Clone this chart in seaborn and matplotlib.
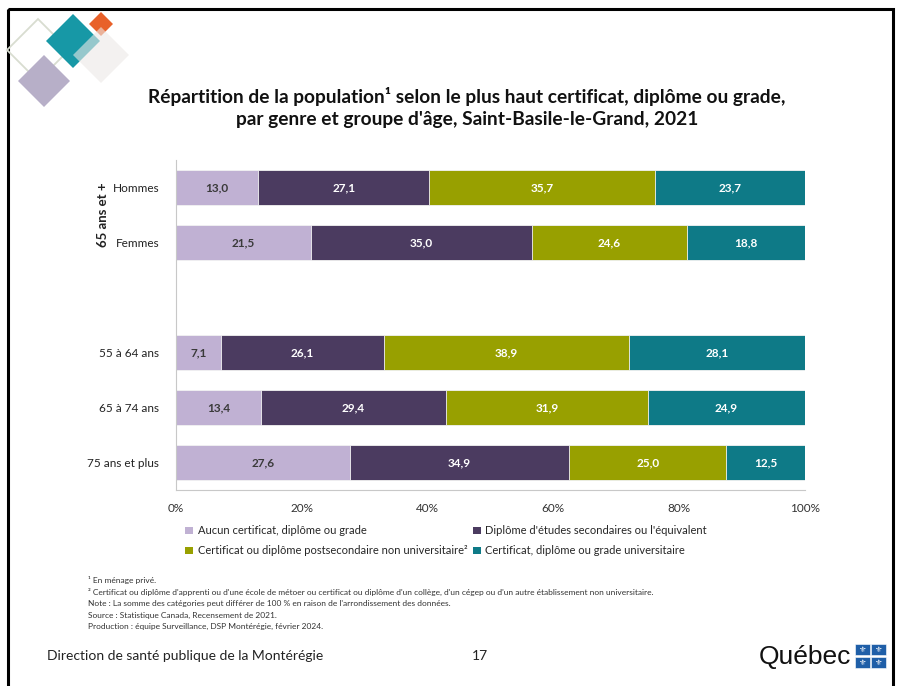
import numpy as np
import pandas as pd
import matplotlib
matplotlib.use("Agg")
import matplotlib.pyplot as plt
from matplotlib.patches import Polygon, Rectangle, Patch
import seaborn as sns

# Données
groupes = ["Hommes", "Femmes", "55 à 64 ans", "65 à 74 ans", "75 ans et plus"]
positions = [0, 1, 3, 4, 5]
categories = [
    "Aucun certificat, diplôme ou grade",
    "Diplôme d'études secondaires ou l'équivalent",
    "Certificat ou diplôme postsecondaire non universitaire²",
    "Certificat, diplôme ou grade universitaire",
]
aucun = [13.0, 21.5, 7.1, 13.4, 27.6]
secondaire = [27.1, 35.0, 26.1, 29.4, 34.9]
postsec = [35.7, 24.6, 38.9, 31.9, 25.0]
universitaire = [23.7, 18.8, 28.1, 24.9, 12.5]
couleurs = ["#C0B1D3", "#4B3B60", "#98A000", "#0E7A87"]
couleurs_texte = ["#3A3A3A", "white", "white", "white"]

sns.set_style("white")
plt.rcParams["font.family"] = ["Lato", "DejaVu Sans"]

valeurs = np.array([aucun, secondaire, postsec, universitaire])
# les barres sont ramenées à 100 %
parts = valeurs / valeurs.sum(axis=0) * 100
droite = np.cumsum(parts, axis=0)

lignes = []
for i, cat in enumerate(categories):
    for j, g in enumerate(groupes):
        lignes.append({"categorie": cat, "groupe": g, "pos": positions[j],
                       "valeur": valeurs[i, j], "droite": droite[i, j],
                       "centre": droite[i, j] - parts[i, j] / 2})
df = pd.DataFrame(lignes)

fig = plt.figure(figsize=(9.02, 6.86), dpi=100)

# fond de la diapositive (coordonnées en pixels)
bg = fig.add_axes([0, 0, 1, 1], zorder=-1)
bg.set_xlim(0, 902)
bg.set_ylim(686, 0)
bg.axis("off")
bg.add_patch(Rectangle((8, 9), 885, 690, fill=False, edgecolor="black", linewidth=2.2))


def losange(cx, cy, r, **kw):
    bg.add_patch(Polygon([(cx, cy - r), (cx + r, cy), (cx, cy + r), (cx - r, cy)], closed=True, **kw))


losange(38, 50, 31, fill=False, edgecolor="#D8DDD0", linewidth=1.3)
losange(44, 81, 26, facecolor="#B7AFC8", edgecolor="none")
losange(73, 41, 27, facecolor="#1798A6", edgecolor="none")
losange(101, 24, 12, facecolor="#E8612A", edgecolor="none")
losange(101, 55, 28, facecolor="#ECE9E6", edgecolor="none", alpha=0.6)

bg.text(467, 97, "Répartition de la population¹ selon le plus haut certificat, diplôme ou grade,",
        ha="center", va="center", fontsize=13.8, fontweight="bold", color="#111111")
bg.text(467, 120, "par genre et groupe d'âge, Saint-Basile-le-Grand, 2021",
        ha="center", va="center", fontsize=13.8, fontweight="bold", color="#111111")

notes = [
    "¹ En ménage privé.",
    "² Certificat ou diplôme d'apprenti ou d'une école de métoer ou certificat ou diplôme d'un collège, d'un cégep ou d'un autre établissement non universitaire.",
    "Note : La somme des catégories peut différer de 100 % en raison de l'arrondissement des données.",
    "Source : Statistique Canada, Recensement de 2021.",
    "Production : équipe Surveillance, DSP Montérégie, février 2024.",
]
for k, n in enumerate(notes):
    bg.text(88, 580 + k * 11.7, n, ha="left", va="center", fontsize=6, color="#333333")

bg.text(47, 656, "Direction de santé publique de la Montérégie", ha="left", va="center",
        fontsize=10, color="#222222")
bg.text(480, 656, "17", ha="center", va="center", fontsize=10, color="#222222")
bg.text(851, 657, "Québec", ha="right", va="center", fontsize=19, color="#111111",
        family=["Liberation Sans", "DejaVu Sans"])
for dx in (0, 16):
    for dy in (0, 12.5):
        bg.add_patch(Rectangle((855 + dx, 644 + dy), 14.5, 11, facecolor="#1F5FA8", edgecolor="white", linewidth=0.4))
        bg.text(862.2 + dx, 649.8 + dy, "⚜", ha="center", va="center", fontsize=6, color="white",
                family=["DejaVu Sans"])

# graphique principal
ax = fig.add_axes([176 / 902, 1 - 490 / 686, 629 / 902, 330 / 686])
for i in reversed(range(len(categories))):
    sub = df[df["categorie"] == categories[i]]
    sns.barplot(data=sub, x="droite", y="pos", orient="h", native_scale=True,
                color=couleurs[i], saturation=1, width=0.62, edgecolor="#F4F4F4", linewidth=0.6,
                errorbar=None, ax=ax)

for i, cat in enumerate(categories):
    sub = df[df["categorie"] == cat]
    for _, r in sub.iterrows():
        ax.text(r["centre"], r["pos"], f"{r['valeur']:.1f}".replace(".", ","),
                ha="center", va="center", fontsize=8.5, fontweight="bold", color=couleurs_texte[i])

ax.set_xlim(0, 100)
ax.set_ylim(5.5, -0.5)
ax.set_xticks([0, 20, 40, 60, 80, 100])
ax.set_xticklabels(["0%", "20%", "40%", "60%", "80%", "100%"])
ax.set_yticks(positions)
ax.set_yticklabels(groupes)
ax.set_xlabel("")
ax.set_ylabel("")
ax.tick_params(axis="x", length=3, color="#BBBBBB", labelsize=8.5, labelcolor="#333333", pad=6)
ax.tick_params(axis="y", length=0, labelsize=8.5, labelcolor="#222222", pad=12)
for s in ["top", "right"]:
    ax.spines[s].set_visible(False)
for s in ["left", "bottom"]:
    ax.spines[s].set_color("#C8C8C8")
    ax.spines[s].set_linewidth(0.8)

bg.text(103, 215, "65 ans et +", ha="center", va="center", rotation=90, fontsize=9.5,
        fontweight="bold", color="#222222")

ordre = [0, 2, 1, 3]
poignees = [Patch(facecolor=couleurs[i], edgecolor="none", label=categories[i]) for i in ordre]
fig.legend(handles=poignees, loc="upper left", bbox_to_anchor=(181 / 902, 1 - 521 / 686),
           ncol=2, frameon=False, fontsize=8, handlelength=0.7, handleheight=0.7,
           handletextpad=0.4, columnspacing=0.5, labelspacing=0.8, borderaxespad=0)

fig.savefig("out.png", dpi=100)
